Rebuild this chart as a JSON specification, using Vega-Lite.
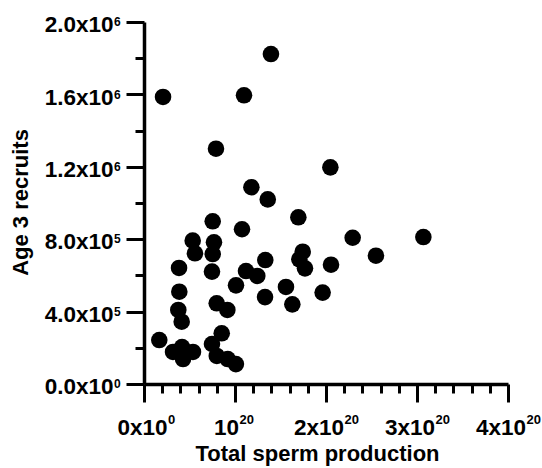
{
  "$schema": "https://vega.github.io/schema/vega-lite/v6.json",
  "width": 364,
  "height": 362,
  "autosize": {"type": "none"},
  "padding": {"left": 144, "top": 22, "right": 34, "bottom": 84},
  "background": "white",
  "config": {
    "view": {"stroke": null},
    "axis": {
      "grid": false,
      "domainColor": "black",
      "tickColor": "black",
      "tickWidth": 3,
      "labelColor": "black",
      "labelFont": "Liberation Sans",
      "labelFontWeight": "bold",
      "labelOverlap": false,
      "labelFlush": false,
      "labelBound": false,
      "titleColor": "black",
      "titleFont": "Liberation Sans",
      "titleFontWeight": "bold",
      "titleFontSize": 22
    }
  },
  "data": {
    "values": [
      {"sperm": 1.395e20, "recruits": 1823000},
      {"sperm": 2.09e19, "recruits": 1586000},
      {"sperm": 1.099e20, "recruits": 1595000},
      {"sperm": 7.91e19, "recruits": 1300000},
      {"sperm": 2.048e20, "recruits": 1197000},
      {"sperm": 1.18e20, "recruits": 1087000},
      {"sperm": 1.36e20, "recruits": 1020000},
      {"sperm": 7.55e19, "recruits": 899000},
      {"sperm": 1.077e20, "recruits": 855000},
      {"sperm": 5.35e19, "recruits": 792000},
      {"sperm": 7.69e19, "recruits": 783000},
      {"sperm": 5.6e19, "recruits": 722000},
      {"sperm": 7.55e19, "recruits": 718000},
      {"sperm": 3.85e19, "recruits": 641000},
      {"sperm": 7.47e19, "recruits": 621000},
      {"sperm": 3.88e19, "recruits": 510000},
      {"sperm": 1.696e20, "recruits": 921000},
      {"sperm": 2.293e20, "recruits": 808000},
      {"sperm": 1.744e20, "recruits": 731000},
      {"sperm": 1.707e20, "recruits": 689000},
      {"sperm": 1.769e20, "recruits": 639000},
      {"sperm": 1.333e20, "recruits": 685000},
      {"sperm": 2.055e20, "recruits": 659000},
      {"sperm": 1.121e20, "recruits": 624000},
      {"sperm": 1.245e20, "recruits": 597000},
      {"sperm": 1.011e20, "recruits": 545000},
      {"sperm": 1.963e20, "recruits": 505000},
      {"sperm": 1.33e20, "recruits": 480000},
      {"sperm": 1.56e20, "recruits": 536000},
      {"sperm": 1.63e20, "recruits": 440000},
      {"sperm": 2.549e20, "recruits": 709000},
      {"sperm": 3.07e20, "recruits": 812000},
      {"sperm": 3.77e19, "recruits": 409000},
      {"sperm": 4.14e19, "recruits": 344000},
      {"sperm": 7.99e19, "recruits": 446000},
      {"sperm": 9.16e19, "recruits": 409000},
      {"sperm": 1.68e19, "recruits": 243000},
      {"sperm": 8.54e19, "recruits": 280000},
      {"sperm": 3.19e19, "recruits": 177000},
      {"sperm": 4.18e19, "recruits": 204000},
      {"sperm": 4.29e19, "recruits": 138000},
      {"sperm": 5.38e19, "recruits": 177000},
      {"sperm": 7.47e19, "recruits": 221000},
      {"sperm": 8.0e19, "recruits": 155000},
      {"sperm": 9.2e19, "recruits": 138000},
      {"sperm": 1.01e20, "recruits": 110000}
    ]
  },
  "layer": [
    {
      "mark": {"type": "circle", "size": 275, "opacity": 0},
      "encoding": {
        "x": {
          "field": "sperm",
          "type": "quantitative",
          "scale": {"domain": [0, 4e20], "nice": false},
          "axis": {
            "orient": "bottom",
            "values": [2e19, 4e19, 6e19, 8e19, 1.2e20, 1.4e20, 1.6e20, 1.8e20, 2.2e20, 2.4e20, 2.6e20, 2.8e20, 3.2e20, 3.4e20, 3.6e20, 3.8e20],
            "domain": false,
            "tickSize": 9,
            "labels": false,
            "title": null
          }
        },
        "y": {
          "field": "recruits",
          "type": "quantitative",
          "scale": {"domain": [0, 2000000], "nice": false},
          "axis": {
            "orient": "left",
            "values": [200000, 600000, 1000000, 1400000, 1800000],
            "domain": false,
            "tickSize": 9,
            "labels": false,
            "title": null
          }
        }
      }
    },
    {
      "mark": {"type": "circle", "size": 275, "color": "black", "opacity": 1},
      "encoding": {
        "x": {
          "field": "sperm",
          "type": "quantitative",
          "scale": {"domain": [0, 4e20], "nice": false},
          "axis": {
            "orient": "bottom",
            "values": [0, 1e20, 2e20, 3e20, 4e20],
            "domainWidth": 3.5,
            "tickSize": 18,
            "labelExpr": "datum.value == 0 ? '0x10' : datum.value == 1e20 ? '10' : format(datum.value / 1e20, 'd') + 'x10'",
            "labelAlign": "right",
            "labelBaseline": "alphabetic",
            "labelPadding": 32,
            "labelOffset": {"condition": [{"test": "datum.value == 0", "value": 23}, {"test": "datum.value == 1e20", "value": 3.5}], "value": 17.5},
            "labelFontSize": 22.5,
            "title": "Total sperm production",
            "titleX": 173,
            "titleY": 76,
            "titleAlign": "center",
            "titleBaseline": "alphabetic"
          }
        },
        "y": {
          "field": "recruits",
          "type": "quantitative",
          "scale": {"domain": [0, 2000000], "nice": false},
          "axis": {
            "orient": "left",
            "values": [0, 400000, 800000, 1200000, 1600000, 2000000],
            "domainWidth": 3.5,
            "tickSize": 18,
            "labelExpr": "datum.value == 0 ? '0.0x10' : datum.value < 1000000 ? format(datum.value / 100000, '.1f') + 'x10' : format(datum.value / 1000000, '.1f') + 'x10'",
            "labelAlign": "right",
            "labelBaseline": "alphabetic",
            "labelOffset": 9.7,
            "labelPadding": 13,
            "labelFontSize": 22.5,
            "title": "Age 3 recruits",
            "titleX": -117,
            "titleY": 180,
            "titleAlign": "center",
            "titleBaseline": "alphabetic"
          }
        }
      }
    },
    {
      "mark": {"type": "circle", "size": 275, "opacity": 0},
      "encoding": {
        "x": {
          "field": "sperm",
          "type": "quantitative",
          "scale": {"domain": [0, 4e20], "nice": false},
          "axis": {
            "orient": "bottom",
            "values": [0, 1e20, 2e20, 3e20, 4e20],
            "domain": false,
            "tickSize": 18,
            "tickOpacity": 0,
            "labelExpr": "datum.value == 0 ? '0' : '20'",
            "labelAlign": "left",
            "labelBaseline": "alphabetic",
            "labelPadding": 21,
            "labelOffset": {"condition": [{"test": "datum.value == 0", "value": 23.5}, {"test": "datum.value == 1e20", "value": 4}], "value": 18},
            "labelFontSize": 13,
            "title": null
          }
        },
        "y": {
          "field": "recruits",
          "type": "quantitative",
          "scale": {"domain": [0, 2000000], "nice": false},
          "axis": {
            "orient": "left",
            "values": [0, 400000, 800000, 1200000, 1600000, 2000000],
            "domain": false,
            "tickSize": 18,
            "tickOpacity": 0,
            "labelExpr": "datum.value == 0 ? '0' : datum.value < 1000000 ? '5' : '6'",
            "labelAlign": "left",
            "labelBaseline": "alphabetic",
            "labelOffset": 3.7,
            "labelPadding": 12.5,
            "labelFontSize": 12,
            "title": null
          }
        }
      }
    }
  ],
  "resolve": {"axis": {"x": "independent", "y": "independent"}}
}
